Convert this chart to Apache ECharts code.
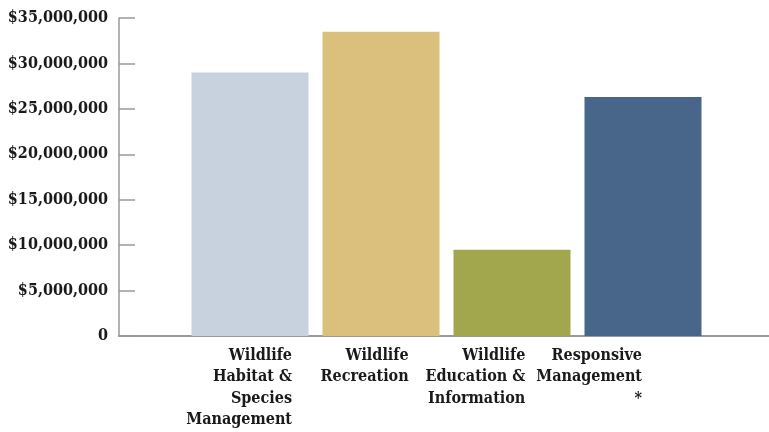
<!DOCTYPE html>
<html>
<head>
<meta charset="utf-8">
<script src="https://cdn.jsdelivr.net/npm/echarts@6/dist/echarts.min.js"></script>
<style>
  html, body { margin: 0; padding: 0; background: #fff; }
  #chart { width: 769px; height: 432px; }
</style>
</head>
<body>
<div id="chart"></div>
<script>
// categories and amounts
const categories = [
  'Wildlife\nHabitat &\nSpecies\nManagement',
  'Wildlife\nRecreation',
  'Wildlife\nEducation &\nInformation',
  'Responsive\nManagement\n*'
];
const amounts = [29000000, 33500000, 9500000, 26300000];
const barColors = ['#c8d1de', '#dbc07d', '#a2a74d', '#476689'];
const yTicks = [0, 5000000, 10000000, 15000000, 20000000, 25000000, 30000000, 35000000];

const FONT = '"DejaVu Serif Condensed", "DejaVu Serif", serif';

const fmtMoney = (v) => v === 0 ? '0' : '$' + v.toLocaleString('en-US');

const chart = echarts.init(document.getElementById('chart'));

// bars sit at slot 1..4; the axis starts at slot 0 (the y axis) and runs off the right edge
const option = {
  backgroundColor: '#fff',
  animation: false,
  grid: [
    { left: 119, right: 0, top: 18, bottom: 96 },
    // label strip, spaced like the original labels
    { left: 292, right: 127, top: 18, bottom: 96 }
  ],
  xAxis: [
    {
      type: 'value',
      gridIndex: 0,
      min: 0,
      max: 650 / 131,
      axisLine: { show: true, lineStyle: { color: '#9a9a9a', width: 2 } },
      axisTick: { show: false },
      axisLabel: { show: false },
      splitLine: { show: false }
    },
    {
      type: 'category',
      gridIndex: 1,
      data: categories,
      boundaryGap: false,
      axisLine: { show: false },
      axisTick: { show: false },
      axisLabel: {
        show: true,
        interval: 0,
        align: 'right',
        margin: 9,
        fontFamily: FONT,
        fontWeight: 'bold',
        fontSize: 16,
        lineHeight: 21.5,
        color: '#1a1a1a'
      }
    }
  ],
  yAxis: [
    {
      type: 'value',
      gridIndex: 0,
      min: yTicks[0],
      max: yTicks[yTicks.length - 1],
      interval: yTicks[1] - yTicks[0],
      axisLine: { show: true, lineStyle: { color: '#999', width: 1.5 } },
      axisTick: { show: true, inside: true, length: 16, lineStyle: { color: '#999', width: 1.5 } },
      splitLine: { show: false },
      axisLabel: {
        margin: 11,
        fontFamily: FONT,
        fontWeight: 'bold',
        fontSize: 16,
        color: '#1a1a1a',
        formatter: (v) => yTicks.includes(v) ? fmtMoney(v) : ''
      }
    },
    {
      type: 'value',
      gridIndex: 1,
      show: false
    }
  ],
  series: [
    {
      type: 'bar',
      xAxisIndex: 0,
      yAxisIndex: 0,
      barWidth: 117,
      data: amounts.map((v, i) => ({
        value: [i + 1, v],
        itemStyle: { color: barColors[i] }
      }))
    }
  ]
};

chart.setOption(option);
</script>
</body>
</html>
